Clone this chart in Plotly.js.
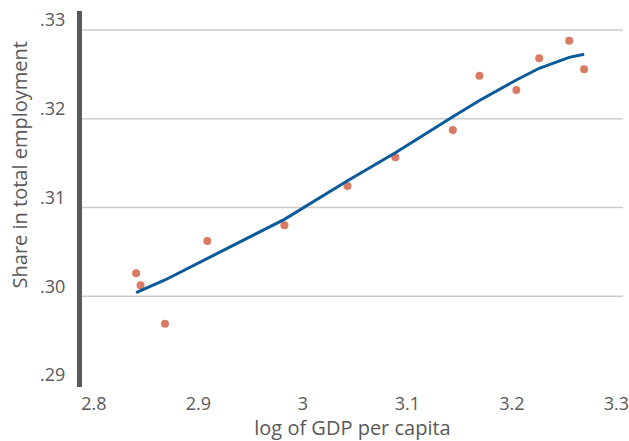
<!DOCTYPE html>
<html>
<head>
<meta charset="utf-8">
<script src="https://cdn.plot.ly/plotly-3.0.1.min.js"></script>
<style>html,body{margin:0;padding:0;background:#fff;}#chart{width:629px;height:441px;}</style>
</head>
<body>
<div id="chart"></div>
<script>
// log of GDP per capita (x) for each observation
const gdp = [2.8404, 2.8446, 2.8680, 2.9085, 2.9823, 3.0427, 3.0885, 3.1435, 3.1690, 3.2043, 3.2262, 3.2549, 3.2692];
// Share in total employment (observed points)
const share = [0.30259, 0.30124, 0.29691, 0.30623, 0.30801, 0.31242, 0.31565, 0.31873, 0.32484, 0.32323, 0.32680, 0.32878, 0.32556];
// Fitted (smoothed) share at the same x values
const fitted = [0.30041, 0.30065, 0.30184, 0.30428, 0.30867, 0.31302, 0.31617, 0.32022, 0.32206, 0.32436, 0.32568, 0.32691, 0.32725];

const xTickVals = [2.8, 2.9, 3.0, 3.1, 3.2, 3.3];
const xTickText = ['2.8', '2.9', '3', '3.1', '3.2', '3.3'];
const yTickVals = [0.29, 0.30, 0.31, 0.32, 0.33];
const yTickText = ['.29', '.30', '.31', '.32', '.33'];
const gridVals = [0.30, 0.31, 0.32, 0.33];

const xTitle = 'log of GDP per capita';
const yTitle = 'Share in total employment';

const font = 'Open Sans, Noto Sans, sans-serif';
const textColor = '#595959';

const traces = [
  {
    x: gdp, y: share, type: 'scatter', mode: 'markers',
    marker: {color: '#d97a64', size: 8},
    hoverinfo: 'skip', showlegend: false
  },
  {
    x: gdp, y: fitted, type: 'scatter', mode: 'lines',
    line: {color: '#0a5b9c', width: 3},
    hoverinfo: 'skip', showlegend: false
  }
];

const shapes = gridVals.map(v => ({
  type: 'line', xref: 'paper', yref: 'y', x0: 0, x1: 1, y0: v, y1: v,
  line: {color: '#cccccc', width: 1.5}, layer: 'below'
}));

const layout = {
  width: 629, height: 441,
  margin: {l: 82, r: 6, t: 11, b: 54},
  paper_bgcolor: '#ffffff', plot_bgcolor: '#ffffff',
  font: {family: font, size: 18, color: textColor},
  showlegend: false,
  xaxis: {
    range: [2.78855, 3.3064],
    tickvals: xTickVals, ticktext: xTickText,
    showgrid: false, zeroline: false, showline: false, ticks: '',
    ticklabelstandoff: 4,
    tickfont: {family: font, size: 18, color: textColor},
    title: {text: xTitle, font: {family: font, size: 20, color: textColor}, standoff: 0},
    fixedrange: true
  },
  yaxis: {
    range: [0.28979, 0.33213],
    tickvals: yTickVals, ticktext: yTickText,
    showgrid: false, zeroline: false,
    showline: true, linecolor: '#5a5a5a', linewidth: 5,
    ticks: '', ticklabelshift: -10, ticklabelstandoff: 8,
    tickfont: {family: font, size: 18, color: textColor},
    fixedrange: true
  },
  shapes: shapes,
  annotations: [{
    text: yTitle, xref: 'paper', yref: 'paper',
    x: -0.116, y: 0.59, xanchor: 'center', yanchor: 'middle',
    textangle: -90, showarrow: false,
    font: {family: font, size: 20, color: textColor}
  }]
};

Plotly.newPlot('chart', traces, layout, {displayModeBar: false, staticPlot: true});
</script>
</body>
</html>
